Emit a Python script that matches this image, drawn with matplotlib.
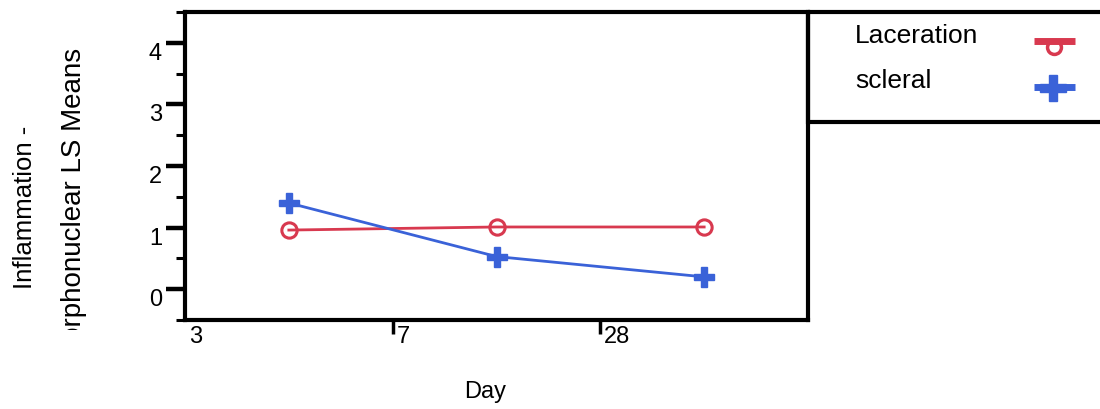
import matplotlib
matplotlib.use("Agg")
import matplotlib.pyplot as plt
from matplotlib.patches import Rectangle
from matplotlib.ticker import MultipleLocator
from matplotlib import transforms

plt.rcParams['font.family'] = ['Liberation Sans', 'DejaVu Sans']

# data
days = ["3", "7", "28"]
laceration = [0.96, 1.01, 1.01]
scleral = [1.40, 0.53, 0.20]
legend_names = ["Laceration", "scleral"]
y_ticks = [0, 1, 2, 3, 4]

red = "#d8394f"
blue = "#3a62d8"

W, H = 1100, 409
fig = plt.figure(figsize=(W / 100, H / 100), dpi=100)

# main axes (pixel box 185..808 x 12..320)
ax = fig.add_axes([185 / W, (H - 320) / H, 623 / W, 308 / H])
xs = list(range(len(days)))
ax.plot(xs, laceration, color=red, lw=2, marker="o", ms=11,
        mfc="none", mec=red, mew=2.2, zorder=3)
ax.plot(xs, scleral, color=blue, lw=2, marker="P", ms=14,
        mfc=blue, mec=blue, zorder=4)

ax.set_xlim(-0.5, len(days) - 0.5)
ax.set_ylim(-0.5, 4.5)
for s in ax.spines.values():
    s.set_linewidth(3)
ax.set_yticks(y_ticks)
ax.yaxis.set_minor_locator(MultipleLocator(0.5))
ax.tick_params(axis="y", which="major", length=13.5, width=3.2, labelsize=17, pad=3)
ax.tick_params(axis="y", which="minor", length=6.5, width=2.2)
# JMP hangs the y labels just below their tick
for lbl in ax.get_yticklabels():
    lbl.set_va("top")

# x ticks sit on the category boundaries, labels hang to the right
ax.set_xticks([i + 0.5 for i in xs[:-1]])
ax.set_xticklabels([])
ax.tick_params(axis="x", which="major", length=10, width=2.5)
lab_tr = transforms.offset_copy(ax.get_xaxis_transform(), fig=fig, x=4, y=-6, units="dots")
for i, d in enumerate(days):
    ax.text(i - 0.5, 0, d, transform=lab_tr, ha="left", va="top", fontsize=17)

# overlay in figure pixel coords for labels and legend box
ov = fig.add_axes([0, 0, 1, 1], zorder=-1)
ov.set_xlim(0, W)
ov.set_ylim(H, 0)
ov.axis("off")

ov.text(485, 392, "Day", ha="center", va="center", fontsize=17)

ov.text(25, 207, "Inflammation -", rotation=90, ha="center", va="center", fontsize=18.5)
line2 = "Polymorphonuclear LS Means"
t2 = ov.text(74, 48, line2, rotation=90, ha="center", va="top", fontsize=20)
renderer = fig.canvas.get_renderer()
full = t2.get_window_extent(renderer)
tmp = ov.text(0, 0, "Polymo", fontsize=20)
wpart = tmp.get_window_extent(renderer).width
tmp.remove()
cut = H - (full.y0 + wpart) + 3  # pixel row where the visible part stops
clip = Rectangle((0, 0), W, cut, transform=ov.transData, facecolor="none", edgecolor="none")
ov.add_patch(clip)
t2.set_clip_on(True)
t2.set_clip_path(clip)

# legend box, cut off on the right like the original
leg = fig.add_axes([0, 0, 1, 1], zorder=5)
leg.set_xlim(0, W)
leg.set_ylim(H, 0)
leg.axis("off")
leg.add_patch(Rectangle((808, 12), 320, 110, facecolor="none", edgecolor="black",
                        lw=3, clip_on=False))
leg.text(855, 43, legend_names[0], fontsize=19, va="baseline", ha="left")
leg.text(855, 88, legend_names[1], fontsize=19, va="baseline", ha="left")
leg.plot([1034, 1075], [41, 41], color=red, lw=5, solid_capstyle="butt")
leg.plot([1054], [47], marker="o", ms=10, mfc="none", mec=red, mew=2.5)
leg.plot([1034, 1075], [87, 87], color=blue, lw=5, solid_capstyle="butt")
leg.plot([1053], [88], marker="P", ms=19, mfc=blue, mec=blue)

fig.savefig("out.png", dpi=100, facecolor="white")
